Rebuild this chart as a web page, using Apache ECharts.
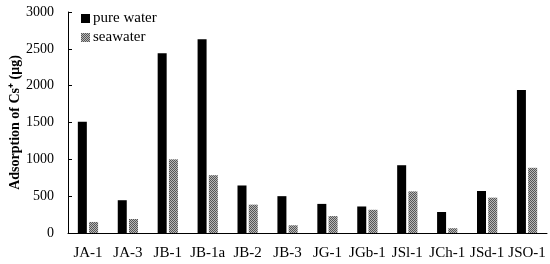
<!DOCTYPE html>
<html>
<head>
<meta charset="utf-8">
<script src="https://cdn.jsdelivr.net/npm/echarts@6/dist/echarts.min.js"></script>
<style>
  html, body { margin: 0; padding: 0; background: #fff; }
  #chart { width: 550px; height: 264px; }
</style>
</head>
<body>
<div id="chart"></div>
<script>
const categories = ['JA-1', 'JA-3', 'JB-1', 'JB-1a', 'JB-2', 'JB-3', 'JG-1', 'JGb-1', 'JSl-1', 'JCh-1', 'JSd-1', 'JSO-1']
const pureWater = [1510, 445, 2440, 2630, 645, 500, 395, 360, 920, 285, 570, 1940]
const seawater = [150, 190, 1000, 785, 385, 105, 230, 315, 565, 65, 480, 885]
const yTicks = [0, 500, 1000, 1500, 2000, 2500, 3000]

// checkered fill for the seawater bars
function checker () {
  const c = document.createElement('canvas')
  c.width = 2
  c.height = 2
  const ctx = c.getContext('2d')
  ctx.fillStyle = '#b8b8b8'
  ctx.fillRect(0, 0, 2, 2)
  ctx.fillStyle = '#555'
  ctx.fillRect(0, 0, 1, 1)
  ctx.fillRect(1, 1, 1, 1)
  return c
}

const font = 'Liberation Serif'
const chart = echarts.init(document.getElementById('chart'))
chart.setOption({
  animation: false,
  grid: { left: 68, right: 3, top: 12, bottom: 31, containLabel: false, outerBoundsMode: 'none' },
  legend: {
    orient: 'vertical',
    left: 76,
    top: 6,
    itemWidth: 9,
    itemHeight: 9,
    itemGap: 4,
    icon: 'rect',
    textStyle: { fontFamily: font, fontSize: 15, color: '#000', padding: [0, 0, 0, -2] },
    data: ['pure water', 'seawater']
  },
  xAxis: {
    type: 'category',
    data: categories,
    axisLine: { lineStyle: { color: '#000', width: 1 } },
    axisTick: { inside: true, length: 4, lineStyle: { color: '#000' } },
    axisLabel: { interval: 0, fontFamily: font, fontSize: 15, color: '#000', margin: 13 }
  },
  yAxis: {
    type: 'value',
    min: yTicks[0],
    max: yTicks[yTicks.length - 1],
    interval: 500,
    name: 'Adsorption of Cs⁺ (μg)',
    nameLocation: 'middle',
    nameGap: 46,
    nameMoveOverlap: false,
    nameTextStyle: { fontFamily: font, fontSize: 14, fontWeight: 'bold', color: '#000' },
    axisLine: { show: true, lineStyle: { color: '#000', width: 1 } },
    axisTick: { show: true, inside: true, length: 4, lineStyle: { color: '#000' } },
    axisLabel: { fontFamily: font, fontSize: 14, color: '#000', margin: 14, formatter: v => String(v) },
    splitLine: { show: false }
  },
  series: [
    {
      name: 'pure water',
      type: 'bar',
      data: pureWater,
      barWidth: 9,
      barGap: '25%',
      itemStyle: { color: '#000' }
    },
    {
      name: 'seawater',
      type: 'bar',
      data: seawater,
      barWidth: 9,
      itemStyle: { color: { image: checker(), repeat: 'repeat' } }
    }
  ]
})
</script>
</body>
</html>
